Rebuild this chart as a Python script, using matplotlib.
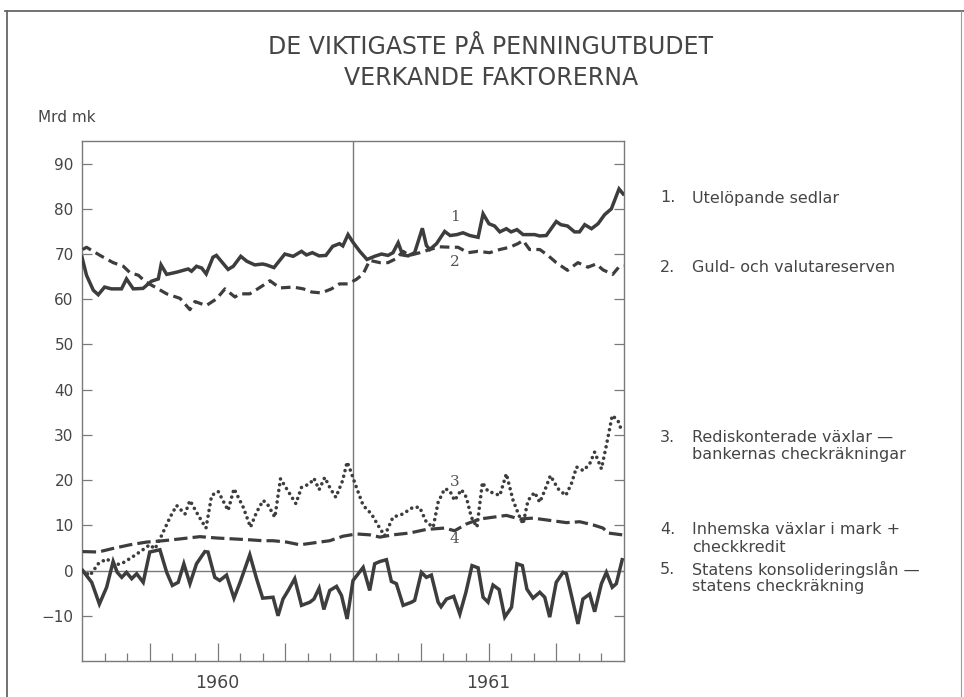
import matplotlib
matplotlib.use("Agg")
import matplotlib.pyplot as plt
from matplotlib.lines import Line2D

# months counted from start of 1960 (0 = 1 Jan 1960, 24 = end of 1961)
m1 = [0.0, 0.2, 0.5, 0.72, 1.0, 1.3, 1.75, 1.97, 2.27, 2.7, 3.08, 3.38, 3.5, 3.75, 4.2, 4.7, 4.85,
      5.07, 5.3, 5.5, 5.8, 5.95, 6.47, 6.7, 7.03, 7.3, 7.65, 8.0, 8.17, 8.5, 8.98, 9.35, 9.72, 9.94,
      10.2, 10.5, 10.8, 11.1, 11.4, 11.55, 11.78, 12.0, 12.3, 12.62, 12.96, 13.26, 13.55, 13.77,
      14.0, 14.2, 14.44, 14.73, 15.07, 15.25, 15.4, 15.7, 16.06, 16.3, 16.6, 16.87, 17.17, 17.54,
      17.76, 18.02, 18.27, 18.5, 18.79, 19.0, 19.26, 19.53, 19.82, 20.04, 20.27, 20.56, 21.0, 21.2,
      21.5, 21.81, 22.03, 22.26, 22.56, 22.85, 23.14, 23.44, 23.78, 23.96]
sedlar = [69.3, 65.3, 62.0, 61.0, 62.7, 62.3, 62.3, 64.5, 62.3, 62.4, 64.0, 64.5, 67.6, 65.5, 66.0,
          66.7, 66.2, 67.3, 66.9, 65.6, 69.3, 69.7, 66.6, 67.3, 69.5, 68.4, 67.6, 67.8, 67.6, 67.0,
          70.0, 69.5, 70.6, 69.8, 70.3, 69.6, 69.7, 71.7, 72.3, 71.8, 74.3, 72.6, 70.6, 68.8, 69.5,
          70.0, 69.7, 70.3, 72.5, 69.8, 69.6, 70.3, 75.7, 71.9, 71.0, 72.3, 75.0, 74.1, 74.3, 74.7,
          74.1, 73.7, 78.9, 76.7, 76.2, 74.9, 75.6, 74.9, 75.4, 74.3, 74.3, 74.3, 74.0, 74.1, 77.2,
          76.5, 76.2, 74.9, 74.9, 76.5, 75.6, 76.7, 78.7, 80.0, 84.4, 83.3]

m2 = [0.03, 0.2, 0.8, 1.38, 1.83, 2.12, 2.5, 2.8, 3.23, 3.75, 4.34, 4.78, 5.0, 5.5, 5.96, 6.33,
      6.77, 7.0, 7.43, 8.0, 8.32, 8.76, 9.35, 9.8, 10.17, 10.6, 11.05, 11.4, 11.78, 12.15, 12.45,
      12.74, 13.19, 13.55, 13.92, 14.22, 14.5, 14.96, 15.4, 15.84, 16.36, 16.65, 17.09, 17.53,
      18.05, 18.5, 18.94, 19.3, 19.53, 19.82, 20.27, 20.63, 21.0, 21.5, 21.96, 22.4, 22.77, 23.07,
      23.5, 23.8, 23.98]
guld = [71.0, 71.5, 69.7, 68.1, 67.3, 65.9, 65.3, 63.9, 62.7, 61.2, 60.2, 57.7, 59.5, 58.6, 60.1,
        62.3, 60.5, 61.2, 61.2, 63.0, 64.1, 62.5, 62.7, 62.3, 61.6, 61.4, 62.3, 63.4, 63.4, 64.4,
        65.6, 68.6, 68.1, 68.1, 69.0, 70.6, 69.7, 70.3, 71.0, 71.6, 71.5, 71.5, 70.3, 70.6, 70.3,
        71.0, 71.5, 72.3, 73.0, 71.0, 71.0, 69.7, 68.1, 66.4, 68.1, 67.1, 67.8, 66.5, 65.5, 67.3,
        67.4]

m3 = [0.03, 0.35, 0.72, 1.09, 1.46, 1.75, 2.2, 2.64, 3.0, 3.23, 3.52, 3.9, 4.19, 4.56, 4.78, 5.15,
      5.49, 5.74, 6.03, 6.47, 6.73, 7.14, 7.46, 7.73, 8.02, 8.2, 8.54, 8.79, 9.06, 9.47, 9.72,
      10.09, 10.27, 10.5, 10.75, 11.0, 11.24, 11.54, 11.74, 11.89, 12.15, 12.45, 12.82, 13.11,
      13.4, 13.77, 14.2, 14.66, 14.95, 15.25, 15.55, 15.77, 16.06, 16.28, 16.5, 16.8, 17.02,
      17.24, 17.49, 17.73, 17.98, 18.2, 18.5, 18.79, 19.09, 19.35, 19.53, 19.75, 20.04, 20.27,
      20.49, 20.74, 21.08, 21.42, 21.67, 21.9, 22.2, 22.48, 22.7, 23.0, 23.22, 23.48, 23.73, 23.92]
rediskont = [0.0, -1.1, 1.5, 2.6, 1.3, 1.5, 2.9, 4.4, 5.7, 4.8, 7.7, 11.8, 14.4, 12.5, 15.5, 12.2,
             9.4, 16.6, 17.5, 13.3, 18.1, 14.0, 9.6, 12.9, 15.5, 14.8, 11.8, 20.3, 18.1, 14.8,
             18.4, 19.2, 20.4, 17.9, 20.6, 18.1, 16.2, 19.9, 24.0, 22.1, 18.4, 14.4, 12.5, 10.0,
             7.7, 11.8, 12.5, 14.0, 14.0, 10.7, 9.6, 15.1, 18.1, 17.7, 15.5, 17.9, 16.2, 11.8, 9.6,
             19.5, 17.5, 17.2, 16.6, 21.4, 15.5, 12.2, 10.3, 15.5, 17.3, 15.1, 17.7, 21.0, 18.1,
             16.6, 19.2, 22.9, 22.1, 23.6, 26.2, 22.5, 27.7, 34.3, 33.2, 30.6]

m4 = [0.03, 0.72, 1.38, 2.12, 2.86, 3.6, 4.34, 5.22, 5.96, 6.7, 7.43, 8.02, 8.46, 9.06, 9.65,
      10.23, 10.97, 11.56, 12.15, 12.74, 13.19, 13.77, 14.5, 15.25, 16.06, 16.5, 17.02, 17.61,
      18.2, 18.79, 19.38, 19.97, 20.71, 21.45, 22.04, 22.63, 23.07, 23.3, 23.92]
inhemska = [4.2, 4.1, 4.9, 5.7, 6.3, 6.6, 7.0, 7.5, 7.2, 7.0, 6.8, 6.6, 6.6, 6.3, 5.7, 6.1, 6.6,
            7.6, 8.1, 7.9, 7.4, 7.9, 8.3, 9.1, 9.4, 8.8, 10.3, 11.4, 11.8, 12.2, 11.4, 11.6, 11.1,
            10.6, 10.8, 10.1, 9.4, 8.3, 7.9]

m5 = [0.03, 0.43, 0.77, 1.09, 1.38, 1.56, 1.76, 1.97, 2.2, 2.42, 2.71, 3.0, 3.45, 3.75, 4.0, 4.26,
      4.51, 4.78, 5.07, 5.44, 5.58, 5.88, 6.1, 6.4, 6.73, 7.0, 7.43, 7.73, 8.0, 8.46, 8.68, 8.9,
      9.13, 9.42, 9.72, 10.09, 10.27, 10.5, 10.71, 10.97, 11.27, 11.49, 11.74, 12.0, 12.45, 12.74,
      12.96, 13.19, 13.48, 13.7, 13.92, 14.22, 14.59, 14.73, 15.03, 15.25, 15.47, 15.77, 15.9,
      16.14, 16.46, 16.73, 17.0, 17.27, 17.54, 17.76, 17.98, 18.2, 18.47, 18.72, 19.02, 19.26,
      19.5, 19.7, 19.97, 20.27, 20.49, 20.71, 21.0, 21.3, 21.45, 21.71, 21.96, 22.18, 22.48,
      22.7, 23.0, 23.22, 23.48, 23.66, 23.92]
staten = [0.0, -2.6, -7.4, -3.7, 2.0, -0.4, -1.5, -0.4, -1.8, -0.7, -2.6, 4.1, 4.6, -0.4, -3.3,
          -2.6, 1.5, -2.9, 1.5, 4.2, 4.1, -1.5, -2.2, -1.0, -6.1, -2.6, 3.5, -1.8, -6.1, -5.9,
          -10.0, -6.3, -4.4, -1.8, -7.7, -7.0, -6.3, -3.9, -8.6, -4.4, -3.5, -5.5, -10.7, -2.2,
          0.7, -4.4, 1.5, 2.0, 2.4, -2.4, -2.9, -7.7, -7.0, -6.6, -0.4, -1.5, -1.0, -7.0, -8.0,
          -6.3, -5.7, -9.6, -4.8, 1.1, 0.6, -5.9, -7.0, -3.2, -4.2, -10.3, -8.1, 1.5, 1.1, -4.1,
          -6.1, -4.8, -5.9, -10.3, -2.6, -0.4, -0.7, -6.3, -11.8, -6.3, -5.2, -9.1, -2.9, -0.4,
          -3.7, -2.9, 2.4]

yticks = list(range(-10, 91, 10))
quarter_ticks = [3, 6, 9, 15, 18, 21]
quarter_labels = ["", "1960", "", "", "1961", ""]
month_ticks = [1, 2, 4, 5, 7, 8, 10, 11, 13, 14, 16, 17, 19, 20, 22, 23]

legend_items = [
    ("1.", ["Utelöpande sedlar"]),
    ("2.", ["Guld- och valutareserven"]),
    ("3.", ["Rediskonterade växlar —", "bankernas checkräkningar"]),
    ("4.", ["Inhemska växlar i mark +", "checkkredit"]),
    ("5.", ["Statens konsolideringslån —", "statens checkräkning"]),
]
legend_y = [198, 267, 438, 530, 569]   # pixel rows of the first line of each entry

ink = "#3d3d3d"
txt = "#454545"
frame = "#7a7a7a"

W, H = 964, 697
fig = plt.figure(figsize=(W / 100, H / 100), dpi=100)
fig.patch.set_facecolor("white")

ax = fig.add_axes([82 / W, 36 / H, 542 / W, 520 / H])
ax.set_xlim(0, 24)
ax.set_ylim(-20, 95)

ax.axhline(0, color=frame, lw=1.0, zorder=1)
ax.axvline(12, color=frame, lw=1.0, zorder=1)

ax.plot(m1, sedlar, color=ink, lw=2.5, solid_joinstyle="miter", zorder=3)
ax.plot(m2, guld, color=ink, lw=2.3, dashes=(3.0, 1.7), zorder=3)
ax.plot(m3, rediskont, color=ink, lw=2.6, dashes=(0.01, 1.6), dash_capstyle="round", zorder=3)
ax.plot(m4, inhemska, color=ink, lw=2.3, dashes=(4.2, 1.6), zorder=3)
ax.plot(m5, staten, color=ink, lw=2.5, solid_joinstyle="miter", zorder=3)

# curve numbers
for lab, yv in [("1", 78.2), ("2", 68.2), ("3", 19.6), ("4", 7.0)]:
    ax.text(16.5, yv, lab, ha="center", va="center", fontsize=11, color="#555555",
            family="DejaVu Serif")

for s in ax.spines.values():
    s.set_color(frame)
    s.set_linewidth(1.0)

ax.set_yticks(yticks)
ax.set_yticklabels([str(v).replace("-", "\u2212") for v in yticks])
ax.tick_params(axis="y", direction="in", left=True, right=True, length=7, width=0.9,
               color=frame, labelsize=11, labelcolor=txt, pad=6)
ax.set_xticks(quarter_ticks)
ax.set_xticklabels(quarter_labels)
ax.set_xticks(month_ticks, minor=True)
ax.tick_params(axis="x", which="major", direction="in", length=13, width=0.9, color=frame,
               labelsize=12.5, labelcolor=txt, pad=9)
ax.tick_params(axis="x", which="minor", direction="in", length=6, width=0.9, color=frame)

# page frame of the scanned sheet
fig.add_artist(Line2D([5 / W, 1.0], [1 - 11 / H, 1 - 11 / H], color="#666666", lw=1.3))
fig.add_artist(Line2D([7 / W, 7 / W], [0, 1 - 11 / H], color="#666666", lw=1.3))
fig.add_artist(Line2D([961 / W, 961 / W], [0, 1 - 11 / H], color="#999999", lw=0.8))

fig.text(491 / W, 1 - 47 / H, "DE VIKTIGASTE PÅ PENNINGUTBUDET", ha="center", va="center",
         fontsize=17, color=txt)
fig.text(491 / W, 1 - 78 / H, "VERKANDE FAKTORERNA", ha="center", va="center",
         fontsize=17, color=txt)
fig.text(38 / W, 1 - 117 / H, "Mrd mk", ha="left", va="center", fontsize=11, color=txt)

for (num, lines), y0 in zip(legend_items, legend_y):
    fig.text(660 / W, 1 - y0 / H, num, ha="left", va="center", fontsize=11.5, color=txt)
    for i, line in enumerate(lines):
        fig.text(692 / W, 1 - (y0 + 17 * i) / H, line, ha="left", va="center",
                 fontsize=11.5, color=txt)

fig.savefig("out.png", dpi=100, facecolor="white")
